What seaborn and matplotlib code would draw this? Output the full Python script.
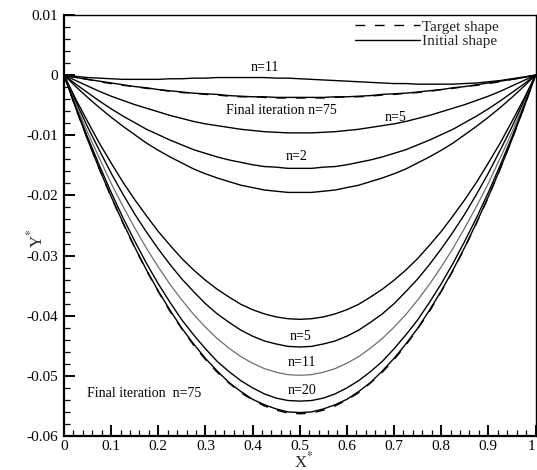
import matplotlib
matplotlib.use("Agg")
import matplotlib.pyplot as plt
import seaborn as sns
from matplotlib.ticker import MultipleLocator, FuncFormatter

# ---------------- data ----------------
x_star = [0.0, 0.025, 0.05, 0.075, 0.1, 0.125, 0.15, 0.175, 0.2, 0.225, 0.25,
          0.275, 0.3, 0.325, 0.35, 0.375, 0.4, 0.425, 0.45, 0.475, 0.5,
          0.525, 0.55, 0.575, 0.6, 0.625, 0.65, 0.675, 0.7, 0.725, 0.75,
          0.775, 0.8, 0.825, 0.85, 0.875, 0.9, 0.925, 0.95, 0.975, 1.0]

# upper case (shallow target)
upper_target = [0, -0.0004, -0.0007, -0.0011, -0.0014, -0.0017, -0.0019, -0.0022, -0.0024, -0.0027, -0.0029,
                -0.0030, -0.0032, -0.0033, -0.0035, -0.0036, -0.0036, -0.0037, -0.0038, -0.0038, -0.0038,
                -0.0038, -0.0038, -0.0037, -0.0036, -0.0036, -0.0035, -0.0033, -0.0032, -0.0030, -0.0029,
                -0.0027, -0.0024, -0.0022, -0.0019, -0.0017, -0.0014, -0.0011, -0.0007, -0.0004, 0]
upper_initial = [0, -0.0019, -0.0037, -0.0054, -0.0070, -0.0085, -0.0099, -0.0113, -0.0125, -0.0136, -0.0146,
                 -0.0156, -0.0164, -0.0171, -0.0177, -0.0183, -0.0187, -0.0191, -0.0193, -0.0195, -0.0195,
                 -0.0195, -0.0193, -0.0191, -0.0187, -0.0183, -0.0177, -0.0171, -0.0164, -0.0156, -0.0146,
                 -0.0136, -0.0125, -0.0113, -0.0099, -0.0085, -0.0070, -0.0054, -0.0037, -0.0019, 0]
upper_n2 = [0, -0.0015, -0.0029, -0.0043, -0.0056, -0.0068, -0.0079, -0.0090, -0.0099, -0.0108, -0.0116,
            -0.0124, -0.0130, -0.0136, -0.0141, -0.0145, -0.0149, -0.0152, -0.0153, -0.0155, -0.0155,
            -0.0155, -0.0153, -0.0152, -0.0149, -0.0145, -0.0141, -0.0136, -0.0130, -0.0124, -0.0116,
            -0.0108, -0.0099, -0.0090, -0.0079, -0.0068, -0.0056, -0.0043, -0.0029, -0.0015, 0]
upper_n5 = [0, -0.0009, -0.0018, -0.0027, -0.0035, -0.0042, -0.0049, -0.0055, -0.0061, -0.0067, -0.0072,
            -0.0077, -0.0081, -0.0084, -0.0087, -0.0090, -0.0092, -0.0094, -0.0095, -0.0096, -0.0096,
            -0.0096, -0.0095, -0.0094, -0.0092, -0.0090, -0.0087, -0.0084, -0.0081, -0.0077, -0.0072,
            -0.0067, -0.0061, -0.0055, -0.0049, -0.0042, -0.0035, -0.0027, -0.0018, -0.0009, 0]
upper_n11 = [0, -0.0002, -0.0004, -0.0005, -0.0006, -0.0007, -0.0007, -0.0007, -0.0007, -0.0006, -0.0006,
             -0.0005, -0.0005, -0.0004, -0.0004, -0.0004, -0.0004, -0.0004, -0.0005, -0.0005, -0.0006,
             -0.0007, -0.0008, -0.0009, -0.0010, -0.0011, -0.0012, -0.0013, -0.0014, -0.0014, -0.0015,
             -0.0015, -0.0015, -0.0015, -0.0014, -0.0013, -0.0011, -0.0009, -0.0006, -0.0003, 0]
upper_n75 = [0, -0.0004, -0.0007, -0.0010, -0.0013, -0.0016, -0.0019, -0.0021, -0.0024, -0.0026, -0.0028,
             -0.0030, -0.0031, -0.0032, -0.0034, -0.0035, -0.0036, -0.0036, -0.0037, -0.0037, -0.0037,
             -0.0037, -0.0037, -0.0036, -0.0036, -0.0035, -0.0034, -0.0032, -0.0031, -0.0030, -0.0028,
             -0.0026, -0.0024, -0.0021, -0.0019, -0.0016, -0.0013, -0.0010, -0.0007, -0.0004, 0]

# lower case (deep target)
lower_target = [0, -0.0055, -0.0107, -0.0156, -0.0203, -0.0246, -0.0287, -0.0325, -0.0360, -0.0393, -0.0422,
                -0.0449, -0.0473, -0.0494, -0.0512, -0.0528, -0.0540, -0.0550, -0.0557, -0.0562, -0.0563,
                -0.0562, -0.0557, -0.0550, -0.0540, -0.0528, -0.0512, -0.0494, -0.0473, -0.0449, -0.0422,
                -0.0393, -0.0360, -0.0325, -0.0287, -0.0246, -0.0203, -0.0156, -0.0107, -0.0055, 0]
lower_initial = [0, -0.0040, -0.0077, -0.0113, -0.0146, -0.0178, -0.0207, -0.0234, -0.0260, -0.0283, -0.0305,
                 -0.0324, -0.0341, -0.0356, -0.0369, -0.0381, -0.0390, -0.0397, -0.0402, -0.0405, -0.0406,
                 -0.0405, -0.0402, -0.0397, -0.0390, -0.0381, -0.0369, -0.0356, -0.0341, -0.0324, -0.0305,
                 -0.0283, -0.0260, -0.0234, -0.0207, -0.0178, -0.0146, -0.0113, -0.0077, -0.0040, 0]
lower_n5 = [0, -0.0044, -0.0086, -0.0125, -0.0163, -0.0198, -0.0231, -0.0261, -0.0289, -0.0315, -0.0339,
            -0.0360, -0.0380, -0.0397, -0.0411, -0.0424, -0.0434, -0.0442, -0.0447, -0.0451, -0.0452,
            -0.0451, -0.0447, -0.0442, -0.0434, -0.0424, -0.0411, -0.0397, -0.0380, -0.0360, -0.0339,
            -0.0315, -0.0289, -0.0261, -0.0231, -0.0198, -0.0163, -0.0125, -0.0086, -0.0044, 0]
lower_n11 = [0, -0.0049, -0.0095, -0.0138, -0.0180, -0.0218, -0.0254, -0.0288, -0.0319, -0.0348, -0.0374,
             -0.0398, -0.0419, -0.0438, -0.0454, -0.0468, -0.0479, -0.0488, -0.0494, -0.0498, -0.0499,
             -0.0498, -0.0494, -0.0488, -0.0479, -0.0468, -0.0454, -0.0438, -0.0419, -0.0398, -0.0374,
             -0.0348, -0.0319, -0.0288, -0.0254, -0.0218, -0.0180, -0.0138, -0.0095, -0.0049, 0]
lower_n20 = [0, -0.0053, -0.0103, -0.0150, -0.0195, -0.0237, -0.0276, -0.0313, -0.0347, -0.0378, -0.0407,
             -0.0432, -0.0455, -0.0476, -0.0493, -0.0508, -0.0520, -0.0530, -0.0537, -0.0541, -0.0542,
             -0.0541, -0.0537, -0.0530, -0.0520, -0.0508, -0.0493, -0.0476, -0.0455, -0.0432, -0.0407,
             -0.0378, -0.0347, -0.0313, -0.0276, -0.0237, -0.0195, -0.0150, -0.0103, -0.0053, 0]
lower_n75 = [0, -0.0055, -0.0107, -0.0156, -0.0202, -0.0245, -0.0286, -0.0324, -0.0359, -0.0391, -0.0421,
             -0.0447, -0.0471, -0.0492, -0.0511, -0.0526, -0.0539, -0.0548, -0.0555, -0.0560, -0.0561,
             -0.0560, -0.0555, -0.0548, -0.0539, -0.0526, -0.0511, -0.0492, -0.0471, -0.0447, -0.0421,
             -0.0391, -0.0359, -0.0324, -0.0286, -0.0245, -0.0202, -0.0156, -0.0107, -0.0055, 0]

x_ticks = [0, 0.1, 0.2, 0.3, 0.4, 0.5, 0.6, 0.7, 0.8, 0.9, 1]
y_ticks = [0.01, 0, -0.01, -0.02, -0.03, -0.04, -0.05, -0.06]

# ---------------- style ----------------
sns.set_theme(style="white")
plt.rcParams["font.family"] = ["Liberation Serif", "DejaVu Serif"]
plt.rcParams["mathtext.fontset"] = "stix"
plt.rcParams["axes.unicode_minus"] = False

fig = plt.figure(figsize=(5.37, 4.70), dpi=100)
ax = fig.add_axes([64 / 537, 34 / 470, 471.5 / 537, 421 / 470])

solid = dict(color="black", lw=1.0, sort=False, estimator=None)

# upper group
sns.lineplot(x=x_star, y=upper_initial, ax=ax, **solid)
line_initial = ax.lines[-1]
sns.lineplot(x=x_star, y=upper_n2, ax=ax, **solid)
sns.lineplot(x=x_star, y=upper_n5, ax=ax, **solid)
sns.lineplot(x=x_star, y=upper_n11, ax=ax, **solid)
sns.lineplot(x=x_star, y=upper_n75, ax=ax, **solid)
sns.lineplot(x=x_star, y=upper_target, ax=ax, color="black", lw=1.0,
             linestyle=(0, (7, 7)), sort=False, estimator=None)
line_target = ax.lines[-1]

# lower group
sns.lineplot(x=x_star, y=lower_initial, ax=ax, **solid)
sns.lineplot(x=x_star, y=lower_n5, ax=ax, **solid)
sns.lineplot(x=x_star, y=lower_n11, ax=ax, color="#6e6e6e", lw=0.9,
             sort=False, estimator=None)
sns.lineplot(x=x_star, y=lower_n20, ax=ax, **solid)
sns.lineplot(x=x_star, y=lower_n75, ax=ax, **solid)
sns.lineplot(x=x_star, y=lower_target, ax=ax, color="black", lw=1.0,
             linestyle=(0, (7, 7)), sort=False, estimator=None)

# ---------------- axes ----------------
ax.set_xlim(0, 1)
ax.set_ylim(-0.06, 0.01)
ax.set_xticks(x_ticks)
ax.set_yticks(y_ticks)
ax.xaxis.set_minor_locator(MultipleLocator(0.02))
ax.yaxis.set_minor_locator(MultipleLocator(0.002))


def fmt(v, _):
    if abs(v) < 1e-9:
        return "0"
    return f"{round(v, 4):g}"


ax.xaxis.set_major_formatter(FuncFormatter(fmt))
ax.yaxis.set_major_formatter(FuncFormatter(fmt))

ax.tick_params(which="both", direction="in", top=False, right=False,
               left=True, bottom=True, colors="black")
ax.tick_params(which="major", length=8, width=1.4, labelsize=11, pad=4)
ax.tick_params(which="minor", length=4.5, width=0.9)
ax.tick_params(axis="x", which="major", pad=3)
for side in ["left", "bottom"]:
    ax.spines[side].set_linewidth(1.6)
for side in ["top", "right"]:
    ax.spines[side].set_linewidth(1.0)
for s in ax.spines.values():
    s.set_color("black")

ax.set_xlabel("X$^{*}$", fontsize=12)
ax.set_ylabel("Y$^{*}$", fontsize=12)
ax.xaxis.set_label_coords(0.508, -0.036)
ax.yaxis.set_label_coords(-0.038, 0.47)

# keep the last x tick label inside the figure
fig.canvas.draw()
xlabels = ax.get_xticklabels()
xlabels[-1].set_horizontalalignment("right")
xlabels[-1].set_x(1.0)

# ---------------- annotations ----------------
tkw = dict(ha="center", va="center", fontsize=10, color="black")
ax.text(0.425, 0.0013, "n=11", **tkw)
ax.text(0.46, -0.0058, "Final iteration n=75", **tkw)
ax.text(0.703, -0.0070, "n=5", **tkw)
ax.text(0.493, -0.0136, "n=2", **tkw)
ax.text(0.501, -0.0435, "n=5", **tkw)
ax.text(0.505, -0.0477, "n=11", **tkw)
ax.text(0.505, -0.0524, "n=20", **tkw)
ax.text(0.169, -0.0530, "Final iteration  n=75", **tkw)

ax.legend(handles=[line_target, line_initial],
          labels=["Target shape", "Initial shape"],
          loc="upper right", bbox_to_anchor=(0.922, 0.988),
          frameon=False, fontsize=11, handlelength=4.3, handletextpad=0.1,
          labelspacing=0.05, borderpad=0, borderaxespad=0)

fig.savefig("out.png", dpi=100)
